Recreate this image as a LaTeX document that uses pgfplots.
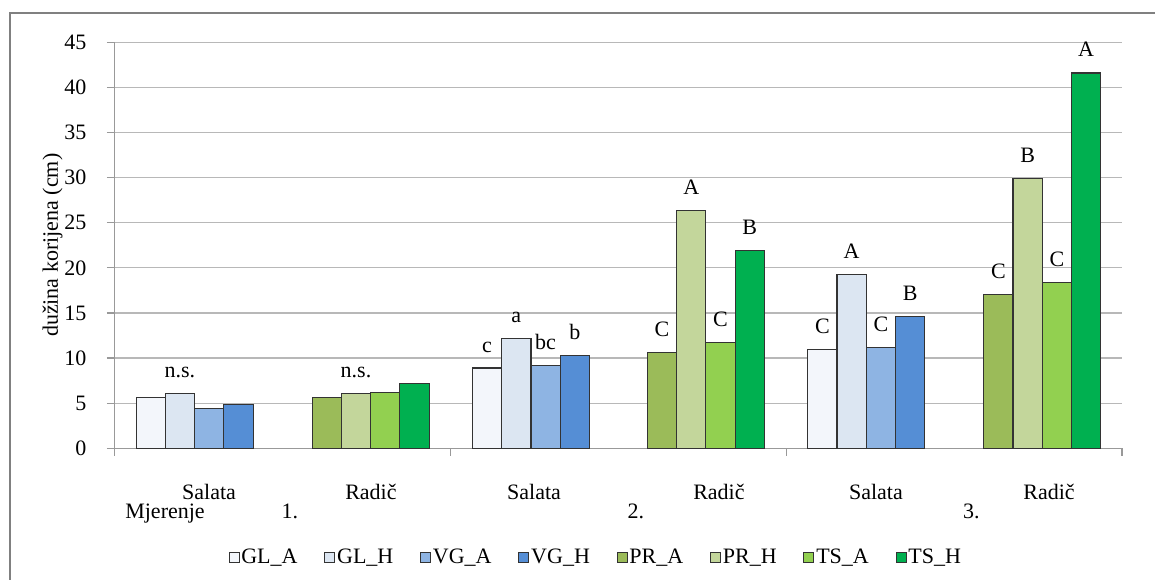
\documentclass[border=0pt]{standalone}
\usepackage{fontspec}
\setmainfont{Liberation Serif}
\usepackage{pgfplots}
\pgfplotsset{compat=1.18}
\definecolor{glA}{HTML}{F3F6FB}
\definecolor{glH}{HTML}{DCE6F2}
\definecolor{vgA}{HTML}{8EB4E3}
\definecolor{vgH}{HTML}{558ED5}
\definecolor{prA}{HTML}{9BBB59}
\definecolor{prH}{HTML}{C3D69B}
\definecolor{tsA}{HTML}{92D050}
\definecolor{tsH}{HTML}{00B050}
\pgfplotsset{
  mylegend/.style={legend image code/.code={\draw[##1, line width=0.7pt] (0pt,-3.9pt) rectangle (7.5pt,3.6pt);}},
  barstyle/.style={draw=black!80, line width=0.8pt, mylegend},
}
\begin{document}
\fontsize{16.5}{19.8}\selectfont
\begin{tikzpicture}
\useasboundingbox (0pt,0pt) rectangle (866.25pt,-435pt);
\draw[black!50, line width=1.5pt] (7.5pt,-440pt) -- (7.5pt,-9.75pt) -- (870pt,-9.75pt);
\begin{axis}[
  at={(85.725pt,-336.225pt)}, anchor=south west,
  scale only axis, width=755.8pt, height=304.5pt,
  xmin=0, xmax=6, ymin=0, ymax=45,
  ytick={0,5,...,45},
  /pgf/number format/assume math mode=true,
  axis x line*=bottom, axis y line*=left,
  axis line style={black!40, line width=0.9pt},
  ymajorgrids, grid style={black!28, line width=0.9pt},
  tick align=outside, major tick length=5.6pt,
  ytick style={black!40, line width=0.9pt},
  yticklabel style={anchor=east, inner sep=0pt, xshift=-15.2pt},
  xtick={0.564,1.528,2.499,3.600,4.535,5.565},
  xticklabels={Salata,Radič,Salata,Radič,Salata,Radič},
  xtick style={draw=none},
  xticklabel style={anchor=base, inner sep=0pt, yshift=-33.15pt},
  extra x ticks={0,2,4,6},
  extra x tick labels={},
  extra x tick style={xtick style={draw=black!40, line width=0.9pt}},
  ylabel={dužina korijena (cm)},
  ylabel style={at={(axis description cs:-0.0559,0.5)}, anchor=base},
  ybar, bar width=21.94pt,
  nodes near coords, point meta=explicit symbolic,
  every node near coord/.append style={anchor=base, yshift=12pt, inner sep=0pt, black},
  clip=false,
  legend columns=8,
  legend style={draw=none, fill=none, at={(axis description cs:0.1131,-0.269)}, anchor=west,
    inner sep=0pt, nodes={inner sep=0.6pt},
    /tikz/every even column/.append style={column sep=19.5pt},
    /tikz/every odd column/.append style={column sep=0.8pt}},
  legend cell align=left,
]
\addplot[barstyle, fill=glA, bar shift=-32.91pt] coordinates {(0.478,5.67) [{}] (2.481,8.9) [c] (4.477,11.0) [C]};
\addplot[barstyle, fill=glH, bar shift=-10.97pt] coordinates {(0.478,6.03) [n.s.] (2.481,12.15) [a] (4.477,19.3) [A]};
\addplot[barstyle, fill=vgA, bar shift=10.97pt] coordinates {(0.478,4.44) [{}] (2.481,9.15) [bc] (4.477,11.2) [C]};
\addplot[barstyle, fill=vgH, bar shift=32.91pt] coordinates {(0.478,4.81) [{}] (2.481,10.25) [b] (4.477,14.6) [B]};
\addplot[barstyle, fill=prA, bar shift=-32.91pt] coordinates {(1.526,5.67) [{}] (3.522,10.6) [C] (5.525,17.0) [C]};
\addplot[barstyle, fill=prH, bar shift=-10.97pt] coordinates {(1.526,6.03) [n.s.] (3.522,26.4) [A] (5.525,29.9) [B]};
\addplot[barstyle, fill=tsA, bar shift=10.97pt] coordinates {(1.526,6.15) [{}] (3.522,11.7) [C] (5.525,18.4) [C]};
\addplot[barstyle, fill=tsH, bar shift=32.91pt] coordinates {(1.526,7.14) [{}] (3.522,21.9) [B] (5.525,41.6) [A]};
\legend{GL\_A,GL\_H,VG\_A,VG\_H,PR\_A,PR\_H,TS\_A,TS\_H}
\node[anchor=base, inner sep=0pt, yshift=-53pt] at (axis cs:0.302,0) {Mjerenje};
\node[anchor=base, inner sep=0pt, yshift=-53pt] at (axis cs:1.046,0) {1.};
\node[anchor=base, inner sep=0pt, yshift=-53pt] at (axis cs:3.106,0) {2.};
\node[anchor=base, inner sep=0pt, yshift=-53pt] at (axis cs:5.103,0) {3.};
\end{axis}
\end{tikzpicture}
\end{document}
